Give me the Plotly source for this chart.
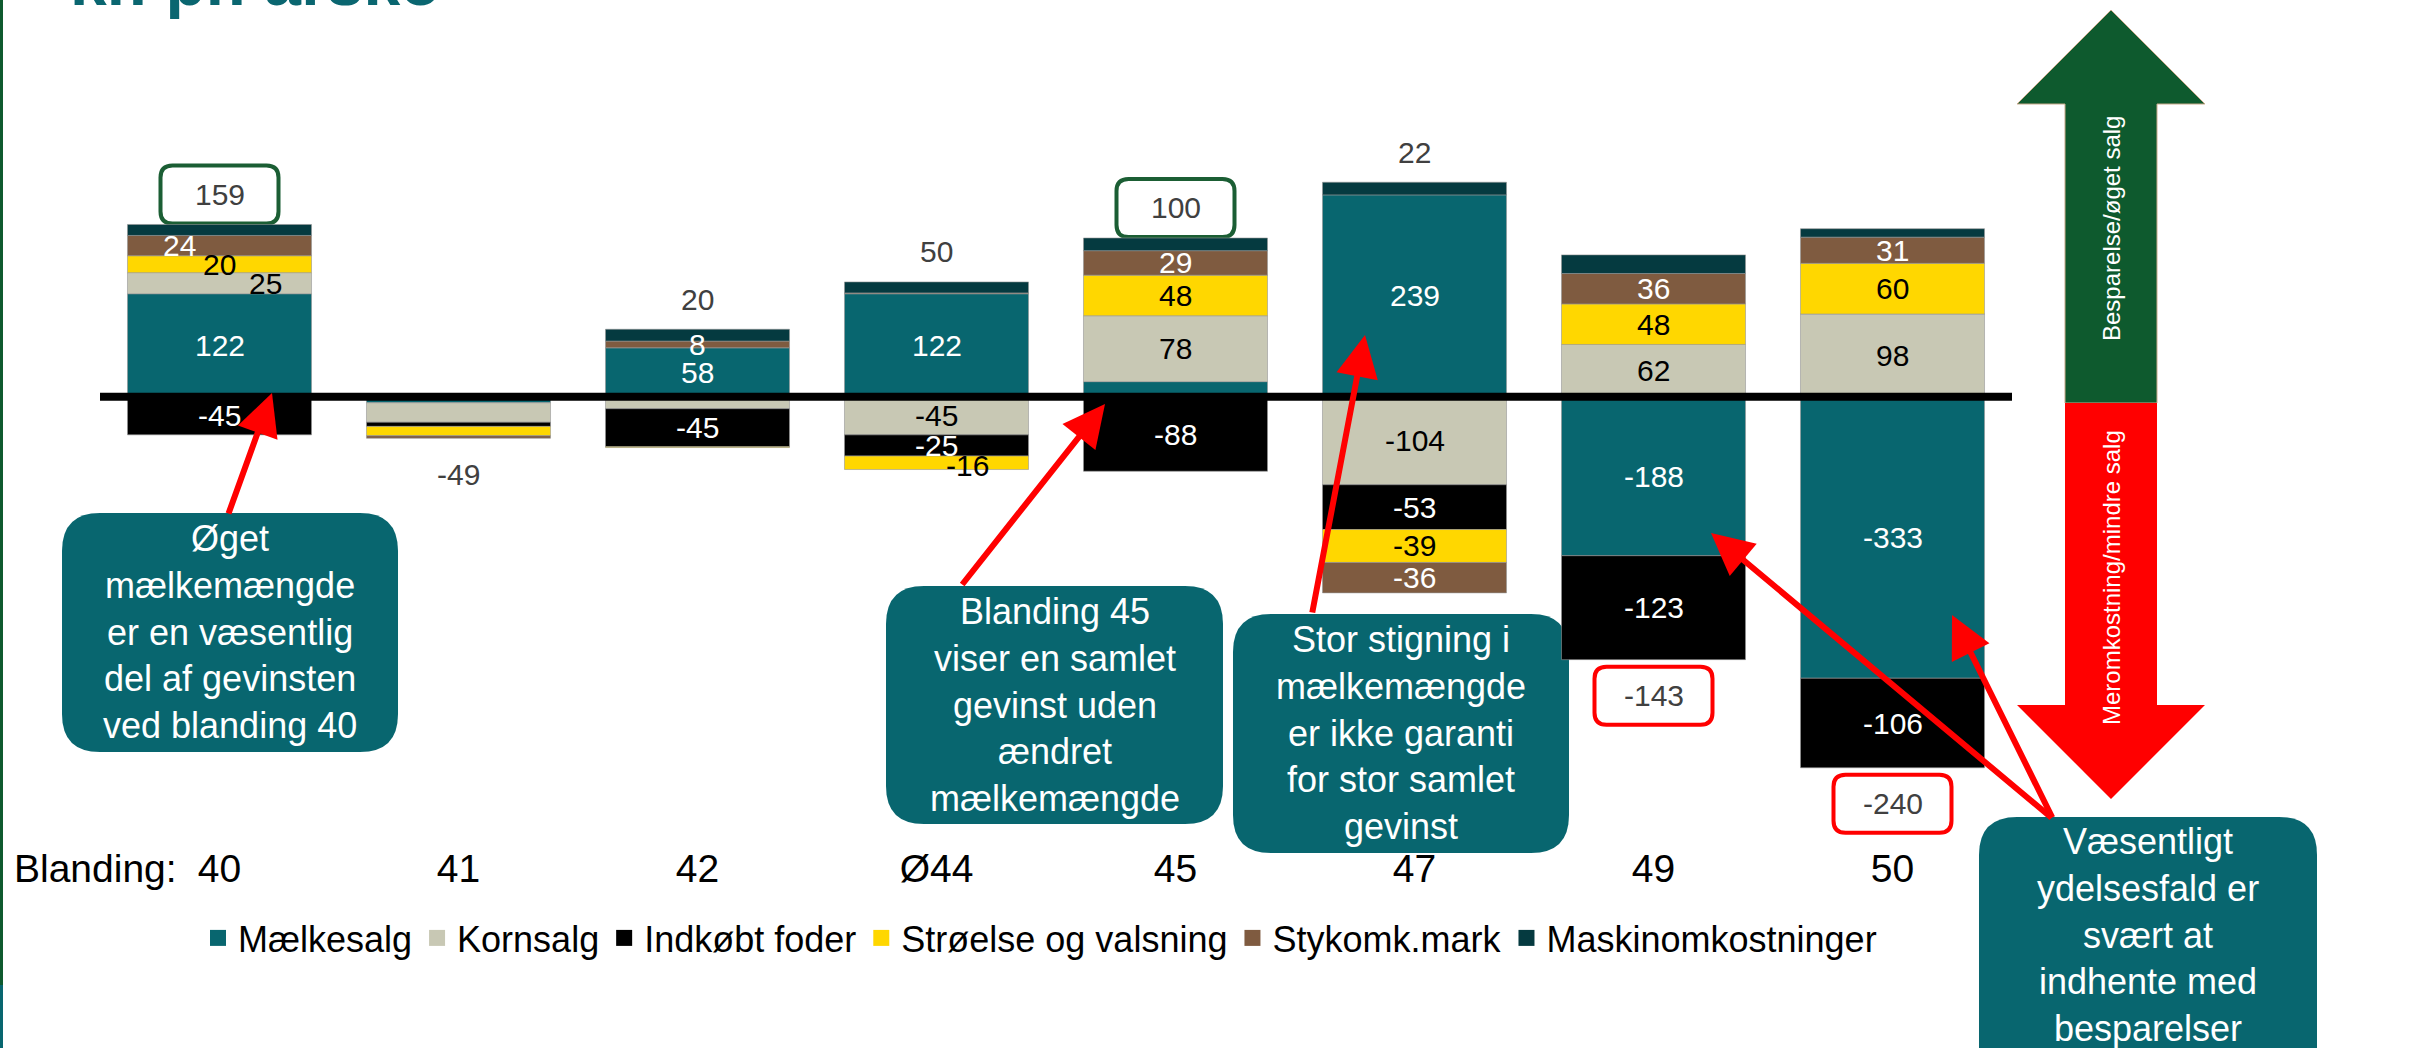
import plotly.graph_objects as go

# ---------------- data ----------------
categories = ["40", "41", "42", "Ø44", "45", "47", "49", "50"]
maelkesalg = [122, -7, 58, 122, 18, 239, -188, -333]
kornsalg = [25, -23, -14, -45, 78, -104, 62, 98]
indkoebt_foder = [-45, -5, -45, -25, -88, -53, -123, -106]
stroelse_valsning = [20, -11, -1, -16, 48, -39, 48, 60]
stykomk_mark = [24, -3, 8, 1, 29, -36, 36, 31]
maskinomkostninger = [13, 0, 14, 13, 15, 15, 22, 10]
totals = [159, -49, 20, 50, 100, 22, -143, -240]

series_names = ["Mælkesalg", "Kornsalg", "Indkøbt foder", "Strøelse og valsning",
                "Stykomk.mark", "Maskinomkostninger"]
series_values = [maelkesalg, kornsalg, indkoebt_foder, stroelse_valsning,
                 stykomk_mark, maskinomkostninger]
series_colors = ["#08666F", "#C8C8B4", "#000000", "#FFD700", "#7F5B40", "#053A40"]
label_colors = ["white", "black", "white", "black", "white", None]

# labels not printed in the original
hidden_labels = {("Kornsalg", "42"), ("Strøelse og valsning", "42"),
                 ("Mælkesalg", "45"), ("Stykomk.mark", "Ø44")}
hidden_label_categories = {"41"}
# label nudges (pixels) used in the original to avoid overlap
label_shift = {("Stykomk.mark", "40"): (-40, 0), ("Kornsalg", "40"): (46, 0),
               ("Strøelse og valsning", "Ø44"): (31, -3)}
green_boxed = {"40", "45"}
red_boxed = {"49", "50"}

FONT = "Liberation Sans, Arial, sans-serif"
NARROW = "Liberation Sans Narrow, Liberation Sans, Arial, sans-serif"
TEAL = "#08666F"
Y_RANGE = [-470, 330]

# ---------------- geometry helpers (paper coords from pixels) ----------------
FIG_W, FIG_H = 2412, 1048
M_L, M_R, M_T, M_B = 100, 400, 118, 254
PW = FIG_W - M_L - M_R
PH = FIG_H - M_T - M_B


def px(xp):
    return (xp - M_L) / PW


def py(yp):
    return (FIG_H - M_B - yp) / PH


def yfrac(v):
    return (v - Y_RANGE[0]) / (Y_RANGE[1] - Y_RANGE[0])


def rrect_paper(x0, y0, x1, y1, r):
    pts = [
        ("M", [(x0 + r, y0)]), ("L", [(x1 - r, y0)]), ("Q", [(x1, y0), (x1, y0 + r)]),
        ("L", [(x1, y1 - r)]), ("Q", [(x1, y1), (x1 - r, y1)]), ("L", [(x0 + r, y1)]),
        ("Q", [(x0, y1), (x0, y1 - r)]), ("L", [(x0, y0 + r)]), ("Q", [(x0, y0), (x0 + r, y0)]),
    ]
    s = ""
    for cmd, ps in pts:
        s += cmd + " ".join(f"{px(a):.5f},{py(b):.5f}" for a, b in ps) + " "
    return s + "Z"


def rrect_rel(cy, w, h, r):
    # pixel offsets relative to anchor, y positive upwards
    x0, x1 = -w / 2, w / 2
    y0, y1 = cy + h / 2, cy - h / 2  # top, bottom
    return (f"M{x0 + r},{y0} L{x1 - r},{y0} Q{x1},{y0} {x1},{y0 - r} "
            f"L{x1},{y1 + r} Q{x1},{y1} {x1 - r},{y1} L{x0 + r},{y1} "
            f"Q{x0},{y1} {x0},{y1 + r} L{x0},{y0 - r} Q{x0},{y0} {x0 + r},{y0} Z")


def poly_paper(points):
    return "M" + " L".join(f"{px(a):.5f},{py(b):.5f}" for a, b in points) + " Z"


# ---------------- figure ----------------
fig = go.Figure()
for name, vals, col in zip(series_names, series_values, series_colors):
    fig.add_trace(go.Bar(
        x=categories, y=vals, name=name, showlegend=False,
        marker=dict(color=col, line=dict(color="rgba(150,150,150,0.6)", width=1)),
        hoverinfo="skip",
    ))
# legend entries with larger square swatches
for name, col in zip(series_names, series_colors):
    fig.add_trace(go.Scatter(
        x=[None], y=[None], mode="markers", name=name,
        marker=dict(symbol="square", size=20, color=col), hoverinfo="skip",
    ))

annotations = []
shapes = []

# segment labels (category position given by index on the category axis)
pos = [0.0] * len(categories)
neg = [0.0] * len(categories)
for s_i, (name, vals) in enumerate(zip(series_names, series_values)):
    for c_i, v in enumerate(vals):
        cat = categories[c_i]
        if v >= 0:
            base = pos[c_i]
            pos[c_i] += v
        else:
            base = neg[c_i]
            neg[c_i] += v
        if label_colors[s_i] is None or v == 0:
            continue
        if cat in hidden_label_categories or (name, cat) in hidden_labels:
            continue
        dx, dy = label_shift.get((name, cat), (0, 0))
        annotations.append(dict(
            x=c_i, y=base + v / 2, xref="x", yref="y", text=str(v), showarrow=False,
            xanchor="center", yanchor="middle",
            xshift=dx, yshift=dy, font=dict(family=FONT, size=30, color=label_colors[s_i]),
        ))

# totals
for c_i, (cat, tot) in enumerate(zip(categories, totals)):
    if tot >= 0:
        anchor, shift = pos[c_i], 30
    else:
        anchor, shift = neg[c_i], -36
    if cat in green_boxed or cat in red_boxed:
        shapes.append(dict(
            type="path", xref="x", yref="paper", xsizemode="pixel", ysizemode="pixel",
            xanchor=c_i, yanchor=yfrac(anchor), path=rrect_rel(shift, 118, 58, 12),
            line=dict(color="#1B5E34" if cat in green_boxed else "#FF0000", width=4),
            fillcolor="white", layer="below",
        ))
    annotations.append(dict(
        x=c_i, y=anchor, xref="x", yref="y", text=str(tot), showarrow=False,
        xanchor="center", yanchor="middle",
        yshift=shift, font=dict(family=FONT, size=30, color="#404040"),
    ))

# zero line
shapes.append(dict(type="line", xref="paper", yref="y", x0=0, x1=1, y0=0, y1=0,
                   line=dict(color="black", width=8), layer="above"))

# left page border
shapes.append(dict(type="line", xref="paper", yref="paper", x0=px(1.5), x1=px(1.5),
                   y0=py(0), y1=py(985), line=dict(color="#0E5A2E", width=3), layer="above"))
shapes.append(dict(type="line", xref="paper", yref="paper", x0=px(1.5), x1=px(1.5),
                   y0=py(985), y1=py(1048), line=dict(color=TEAL, width=3), layer="above"))

# big double arrow
shapes.append(dict(type="path", xref="paper", yref="paper",
                   path=poly_paper([(2111, 10), (2205, 104), (2157, 104), (2157, 403),
                                    (2065, 403), (2065, 104), (2017, 104)]),
                   fillcolor="#0E5A2E", line=dict(color="#C9A98A", width=1), layer="below"))
shapes.append(dict(type="path", xref="paper", yref="paper",
                   path=poly_paper([(2065, 403), (2157, 403), (2157, 705), (2205, 705),
                                    (2111, 799), (2017, 705), (2065, 705)]),
                   fillcolor="#FF0000", line=dict(width=0), layer="below"))
annotations.append(dict(x=px(2111), y=py(229), xref="paper", yref="paper",
                        xanchor="center", yanchor="middle",
                        text="Besparelse/øget salg", textangle=-90, showarrow=False,
                        font=dict(family=NARROW, size=24, color="white")))
annotations.append(dict(x=px(2111), y=py(578), xref="paper", yref="paper",
                        xanchor="center", yanchor="middle",
                        text="Meromkostning/mindre salg", textangle=-90, showarrow=False,
                        font=dict(family=NARROW, size=24, color="white")))

# callout boxes
callouts = [
    ((62, 513, 398, 752), 632, "Øget<br>mælkemængde<br>er en væsentlig<br>del af gevinsten<br>ved blanding 40"),
    ((886, 586, 1223, 824), 705, "Blanding 45<br>viser en samlet<br>gevinst uden<br>ændret<br>mælkemængde"),
    ((1233, 614, 1569, 853), 733, "Stor stigning i<br>mælkemængde<br>er ikke garanti<br>for stor samlet<br>gevinst"),
    ((1979, 817, 2317, 1090), 935, "Væsentligt<br>ydelsesfald er<br>svært at<br>indhente med<br>besparelser"),
]
for (x0, y0, x1, y1), ty, txt in callouts:
    shapes.append(dict(type="path", xref="paper", yref="paper",
                       path=rrect_paper(x0, y0, x1, y1, 38), fillcolor=TEAL,
                       line=dict(width=0), layer="below"))
    annotations.append(dict(x=px((x0 + x1) / 2), y=py(ty), xref="paper", yref="paper",
                            xanchor="center", yanchor="middle",
                            text=txt, showarrow=False, align="center",
                            font=dict(family=FONT, size=36, color="white")))

# red pointer arrows (tip, tail) in pixels
pointers = [((272, 393), (228, 515)), ((1105, 404), (961, 586)), ((1365, 335), (1312, 614)),
            ((1711, 533), (2053, 819)), ((1952, 615), (2053, 819))]
for (tx, ty), (sx, sy) in pointers:
    annotations.append(dict(x=px(tx), y=py(ty), xref="paper", yref="paper", text="",
                            showarrow=True, ax=sx - tx, ay=sy - ty, arrowhead=2,
                            arrowsize=1.4, arrowwidth=6, arrowcolor="#FF0000"))

# "Blanding:" and partial title
annotations.append(dict(x=px(12), y=py(868), xref="paper", yref="paper", text="Blanding:",
                        xanchor="left", yanchor="middle", showarrow=False,
                        font=dict(family=FONT, size=39, color="black")))
annotations.append(dict(x=px(68), y=py(-18), xref="paper", yref="paper", text="<b>kr. pr. årsko</b>",
                        xanchor="left", yanchor="middle", showarrow=False,
                        font=dict(family=FONT, size=66, color="#0A6670")))

fig.update_layout(
    width=FIG_W, height=FIG_H,
    margin=dict(l=M_L, r=M_R, t=M_T, b=M_B, pad=0),
    paper_bgcolor="white", plot_bgcolor="rgba(0,0,0,0)",
    barmode="relative", bargap=0.23,
    font=dict(family=FONT, color="black"),
    xaxis=dict(type="category", range=[-0.5, len(categories) - 0.5],
               showgrid=False, showline=False, zeroline=False,
               ticks="outside", ticklen=40, tickcolor="rgba(0,0,0,0)",
               tickfont=dict(family=FONT, size=39, color="black")),
    yaxis=dict(range=Y_RANGE, visible=False, showgrid=False, zeroline=False),
    legend=dict(orientation="h", x=px(1040), y=py(938), xanchor="center", yanchor="middle",
                font=dict(family=FONT, size=36, color="black"), traceorder="normal",
                bgcolor="rgba(0,0,0,0)", itemwidth=30),
    annotations=annotations,
    shapes=shapes,
)

fig.write_html("out.html", config={"displayModeBar": False},
               post_script="document.body.style.margin='0';document.body.style.overflow='hidden';")
